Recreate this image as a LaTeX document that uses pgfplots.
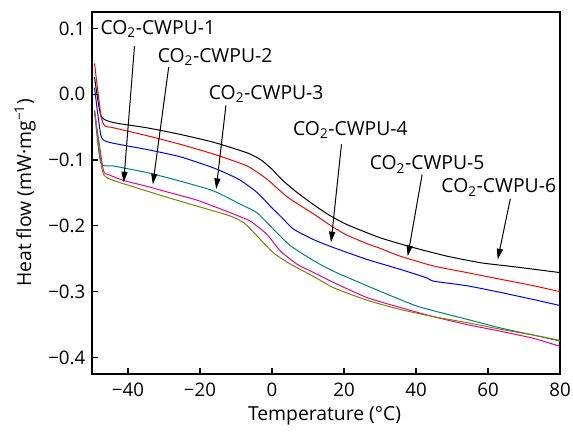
\documentclass[border=0pt]{standalone}
\usepackage{fontspec}
\setmainfont{Open Sans}
\usepackage{pgfplots}
\pgfplotsset{compat=1.18}
\usetikzlibrary{arrows.meta}

\definecolor{cteal}{RGB}{0,128,128}
\definecolor{colive}{RGB}{128,128,0}

\begin{document}
\fontsize{14.5}{17}\selectfont
\begin{tikzpicture}
\begin{axis}[
    scale only axis,
    width=351pt, height=271.5pt,
    xmin=-50, xmax=80,
    ymin=-0.425, ymax=0.125,
    xtick={-40,-20,0,20,40,60,80},
    xticklabels={−40,−20,0,20,40,60,80},
    ytick={-0.4,-0.3,-0.2,-0.1,0,0.1},
    yticklabels={−0.4,−0.3,−0.2,−0.1,0.0,0.1},
    tick label style={font=\fontsize{14}{16}\selectfont},
    xticklabel style={yshift=-2pt},
    tick pos=left,
    tick align=inside,
    major tick length=4.5pt,
    axis line style={line width=0.9pt},
    tick style={line width=0.9pt, black},
    xlabel={Temperature (°C)},
    ylabel={Heat flow (mW·mg\textsuperscript{−1})},
    xlabel style={at={(rel axis cs:0.497,-0.116)}, anchor=center},
    ylabel style={at={(rel axis cs:-0.143,0.5)}, anchor=center},
    clip=false,
    every axis plot/.append style={line width=0.75pt, no markers, smooth, tension=0.35},
]
% CO2-CWPU-6 (black)
\addplot[black] coordinates {
(-49.3,0.026)(-47.5,-0.033)(-44,-0.043)(-34.7,-0.051)(-25.5,-0.061)(-16.2,-0.073)
(-6.9,-0.089)(-3,-0.100)(0,-0.114)(3,-0.131)(6.9,-0.149)(11.6,-0.168)
(16,-0.184)(20.8,-0.198)(30,-0.218)(39.3,-0.233)(48.6,-0.246)(57.9,-0.256)(67.1,-0.262)(80,-0.271)};
% CO2-CWPU-5 (red)
\addplot[red] coordinates {
(-49.3,0.047)(-47.5,-0.033)(-46.4,-0.048)(-44,-0.051)(-34.7,-0.063)(-25.5,-0.076)
(-16.2,-0.091)(-6.9,-0.109)(-1.4,-0.129)(2.3,-0.147)(5,-0.159)(11.6,-0.182)(16.7,-0.201)
(20.8,-0.214)(26.4,-0.227)(30,-0.234)(35.6,-0.246)(44.9,-0.261)(54.2,-0.271)(63.4,-0.281)
(72.7,-0.291)(80,-0.300)};
% CO2-CWPU-4 (blue)
\addplot[blue] coordinates {
(-49.3,0.010)(-47.5,-0.063)(-45.2,-0.073)(-34.7,-0.084)(-25.5,-0.095)(-16.2,-0.112)
(-9.3,-0.129)(-4.2,-0.149)(0.4,-0.175)(2.3,-0.185)(6,-0.205)(11.6,-0.221)(17.1,-0.233)
(26.4,-0.251)(35.6,-0.266)(43,-0.279)(44.9,-0.284)(54.2,-0.291)(63.4,-0.301)(72.7,-0.312)(80,-0.321)};
% CO2-CWPU-3 (teal)
\addplot[cteal] coordinates {
(-49.3,-0.025)(-47.6,-0.104)(-44,-0.109)(-34.7,-0.119)(-25.5,-0.132)(-16.2,-0.147)
(-8.8,-0.167)(-4.2,-0.180)(0.4,-0.205)(5.1,-0.230)(11.6,-0.253)(17.1,-0.269)(26.4,-0.291)
(35.6,-0.312)(40.3,-0.322)(44.9,-0.329)(54.2,-0.342)(63.4,-0.355)(72.7,-0.366)(80,-0.375)};
% CO2-CWPU-2 (magenta)
\addplot[magenta] coordinates {
(-49.3,-0.025)(-46.9,-0.114)(-45.4,-0.122)(-41.2,-0.131)(-34.7,-0.140)(-30.1,-0.147)
(-20.8,-0.161)(-11.6,-0.180)(-6,-0.193)(-1.4,-0.213)(2.3,-0.238)(6.9,-0.258)(11.6,-0.271)
(17.1,-0.286)(26.4,-0.309)(35.6,-0.324)(44.9,-0.338)(54.2,-0.350)(63.4,-0.360)(72.7,-0.371)(80,-0.383)};
% CO2-CWPU-1 (olive)
\addplot[colive] coordinates {
(-49.3,-0.025)(-47.2,-0.114)(-45.8,-0.127)(-41.2,-0.136)(-30.1,-0.155)(-20.8,-0.170)
(-11.6,-0.185)(-7.9,-0.195)(-4.2,-0.215)(0.4,-0.241)(5.1,-0.258)(11.6,-0.277)(17.1,-0.294)
(26.4,-0.313)(35.6,-0.327)(44.9,-0.338)(54.2,-0.347)(63.4,-0.357)(72.7,-0.366)(80,-0.374)};

% labels and arrows
\tikzset{lab/.style={anchor=base west, inner sep=0pt},
         arr/.style={-{Triangle[length=8pt,width=4.5pt]}, line width=0.75pt}}
\node[lab] at (axis cs:-47.7,0.091) {CO\textsubscript{2}-CWPU-1};
\node[lab] at (axis cs:-31.8,0.048) {CO\textsubscript{2}-CWPU-2};
\node[lab] at (axis cs:-17.6,-0.0076) {CO\textsubscript{2}-CWPU-3};
\node[lab] at (axis cs:5.8,-0.063) {CO\textsubscript{2}-CWPU-4};
\node[lab] at (axis cs:27.1,-0.115) {CO\textsubscript{2}-CWPU-5};
\node[lab] at (axis cs:47,-0.150) {CO\textsubscript{2}-CWPU-6};
\draw[arr] (axis cs:-38.2,0.073) -- (axis cs:-41.2,-0.134);
\draw[arr] (axis cs:-28.7,0.041) -- (axis cs:-33.1,-0.137);
\draw[arr] (axis cs:-12.8,-0.017) -- (axis cs:-15.5,-0.144);
\draw[arr] (axis cs:19.3,-0.076) -- (axis cs:16.4,-0.225);
\draw[arr] (axis cs:41.7,-0.122) -- (axis cs:37.7,-0.246);
\draw[arr] (axis cs:66.2,-0.159) -- (axis cs:62.7,-0.251);
\coordinate (bbl) at (rel axis cs:-0.1966,-0.1657);
\coordinate (btr) at (rel axis cs:1.0278,1.0331);
\end{axis}
\pgfresetboundingbox
\path[use as bounding box] (bbl) rectangle (btr);
\end{tikzpicture}
\end{document}
